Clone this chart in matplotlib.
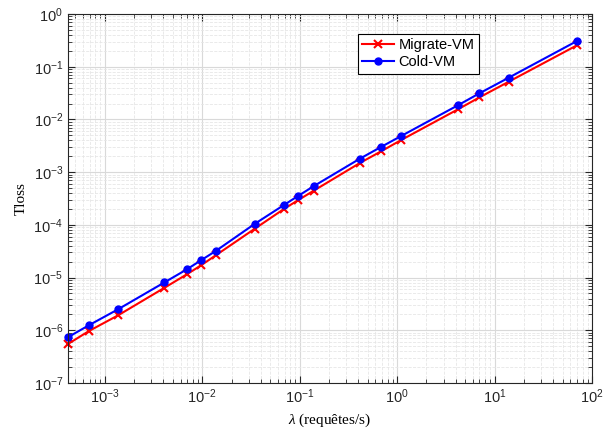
import matplotlib.pyplot as plt
from matplotlib.ticker import LogLocator, NullFormatter

plt.rcParams['font.family'] = ['Liberation Sans', 'DejaVu Sans']
plt.rcParams['mathtext.fontset'] = 'custom'
plt.rcParams['mathtext.rm'] = 'Liberation Sans'
plt.rcParams['mathtext.it'] = 'Liberation Serif:italic'
plt.rcParams['mathtext.default'] = 'regular'

# arrival rate (requests per second)
lam = [4.2e-4, 6.9e-4, 1.37e-3, 4.1e-3, 6.95e-3, 9.7e-3, 1.39e-2, 3.45e-2,
       6.95e-2, 9.7e-2, 0.139, 0.415, 0.69, 1.1, 4.2, 7.0, 14.0, 71.0]

# loss time for each strategy
migrate_vm = [5.5e-7, 9.7e-7, 1.92e-6, 6.4e-6, 1.15e-5, 1.7e-5, 2.67e-5, 8.4e-5,
              2.02e-4, 2.96e-4, 4.43e-4, 1.49e-3, 2.5e-3, 4.06e-3, 1.55e-2,
              2.62e-2, 5.2e-2, 0.258]
cold_vm = [7.4e-7, 1.25e-6, 2.5e-6, 8.1e-6, 1.43e-5, 2.12e-5, 3.23e-5, 1.04e-4,
           2.4e-4, 3.56e-4, 5.4e-4, 1.8e-3, 3.03e-3, 4.84e-3, 1.85e-2,
           3.13e-2, 6.2e-2, 0.311]

fig = plt.figure(figsize=(6.05, 4.32), dpi=100)
ax = fig.add_axes([0.1124, 0.1134, 0.8661, 0.8542])

ax.loglog(lam, migrate_vm, color='red', marker='x', markersize=6,
          markeredgewidth=1.5, linewidth=1.5, label='Migrate-VM', clip_on=False)
ax.loglog(lam, cold_vm, color='blue', marker='o', markersize=5,
          linewidth=1.5, label='Cold-VM', clip_on=False)

ax.set_xlim(4.2e-4, 100)
ax.set_ylim(1e-7, 1)
ax.xaxis.set_major_locator(LogLocator(base=10, numticks=20))
ax.yaxis.set_major_locator(LogLocator(base=10, numticks=20))
ax.xaxis.set_minor_locator(LogLocator(base=10, subs=range(2, 10), numticks=40))
ax.yaxis.set_minor_locator(LogLocator(base=10, subs=range(2, 10), numticks=40))
ax.xaxis.set_minor_formatter(NullFormatter())
ax.yaxis.set_minor_formatter(NullFormatter())

ax.grid(True, which='major', color='#d9d9d9', linewidth=0.8)
ax.grid(True, which='minor', color='#e6e6e6', linestyle='--', linewidth=0.6)
ax.set_axisbelow(True)

ax.tick_params(which='both', direction='in', top=True, right=True,
               labelsize=10.5, colors='#262626')
ax.tick_params(which='major', length=5)
ax.tick_params(which='minor', length=3)
for sp in ax.spines.values():
    sp.set_color('#262626')
    sp.set_linewidth(0.8)

ax.set_xlabel(r'$\mathit{\lambda}$ (requêtes/s)', family='Liberation Serif',
              fontsize=11)
ax.set_ylabel('Tloss', family='Liberation Serif', fontsize=11)

leg = ax.legend(loc='upper left', bbox_to_anchor=(0.553, 0.946), fontsize=10.5,
                fancybox=False, framealpha=1, edgecolor='black',
                borderpad=0.3, labelspacing=0.2, handlelength=2.2,
                handletextpad=0.3, borderaxespad=0)
leg.get_frame().set_linewidth(0.8)

fig.savefig('out.png', dpi=100)
